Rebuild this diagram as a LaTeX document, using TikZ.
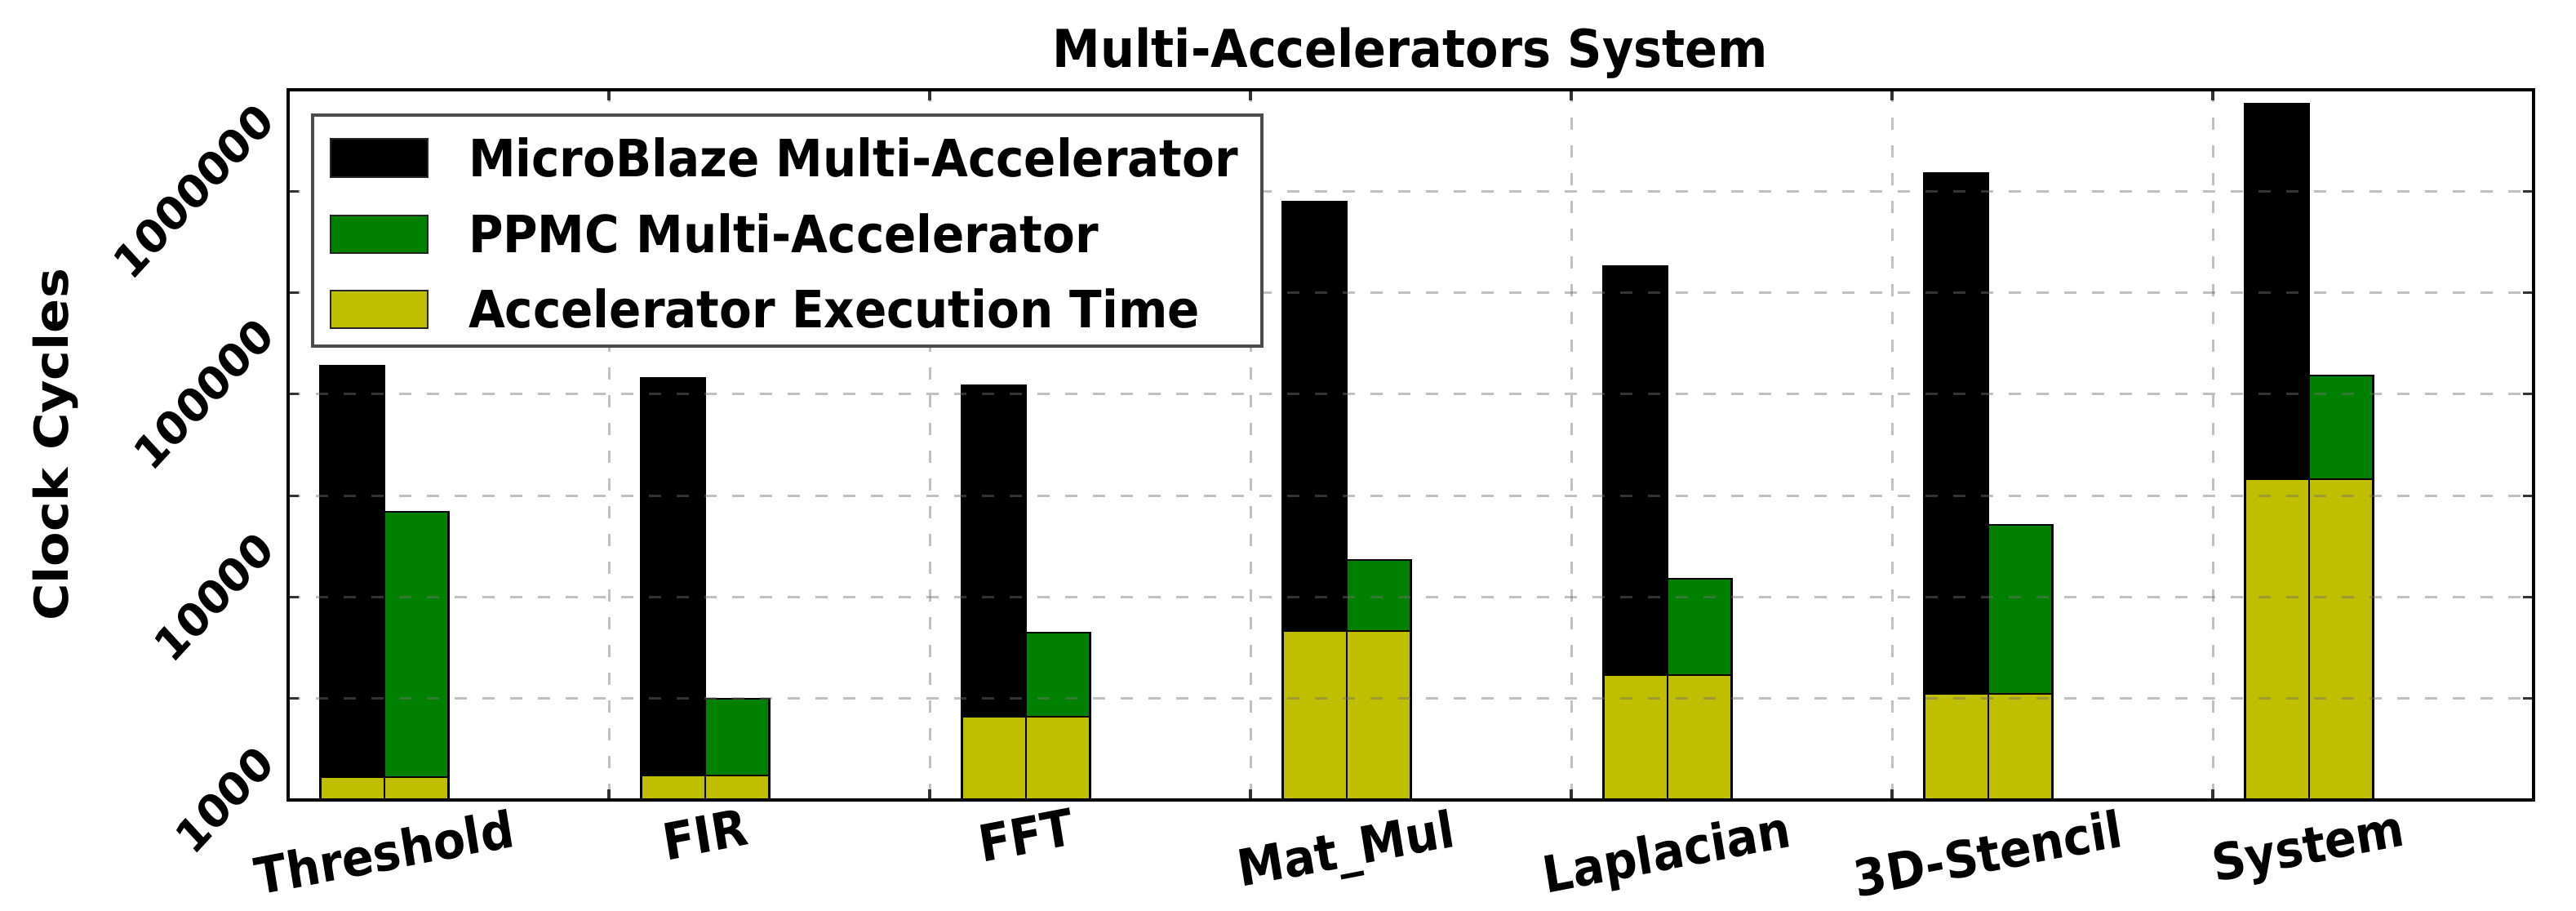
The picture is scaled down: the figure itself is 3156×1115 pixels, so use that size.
\documentclass[tikz,border=0pt]{standalone}
\usepackage{fontspec}
\setmainfont{DejaVu Sans}
\usepackage{graphicx}

% matplotlib classic bar colours
\definecolor{mbblack}{rgb}{0,0,0}
\definecolor{mbgreen}{rgb}{0,0.5,0}
\definecolor{mbyellow}{rgb}{0.75,0.75,0}

% the whole figure is slightly narrowed horizontally
\newcommand{\sqz}[1]{\scalebox{0.92}[1]{#1}}
\newcommand{\titlefont}{\bfseries\fontsize{16pt}{19pt}\selectfont}
\newcommand{\legfont}{\bfseries\fontsize{15.75pt}{19pt}\selectfont}
\newcommand{\xlabfont}{\bfseries\fontsize{15.5pt}{18pt}\selectfont}
\newcommand{\ylabfont}{\bfseries\fontsize{14pt}{17pt}\selectfont}

\begin{document}
\begin{tikzpicture}[x=0.25pt,y=-0.25pt,
  baredge/.style={draw=black, line width=0.7pt},
  gridline/.style={draw=black!55, opacity=0.45, line width=0.75pt,
                   dash pattern=on 3.75pt off 4.75pt},
  spine/.style={draw=black, line width=1.1pt},
  tickmark/.style={draw=black!80, line width=0.8pt},
  legendframe/.style={draw=black!70, line width=1pt, fill=white},
  patch/.style={draw=black!85, line width=0.7pt},
  lbl/.style={inner sep=0pt, outer sep=0pt}]

\useasboundingbox (0,0) rectangle (3156,1115);

% stacked bars: group index / MicroBlaze top / PPMC top / accelerator top (pixel rows)
\foreach \i/\blk/\grn/\yel in {0/448/627/952, 1/463/856/950, 2/472/775/878,
                               3/247/686/773, 4/326/709/827, 5/212/643/850,
                               6/127/460/587} {
  \pgfmathsetmacro\xa{353+393*\i+39.3}
  \pgfmathsetmacro\xb{353+393*\i+117.9}
  \pgfmathsetmacro\xc{353+393*\i+196.5}
  \path[baredge, fill=mbblack]  (\xa,\yel) rectangle (\xb,\blk);
  \path[baredge, fill=mbyellow] (\xa,980)  rectangle (\xb,\yel);
  \path[baredge, fill=mbgreen]  (\xb,\yel) rectangle (\xc,\grn);
  \path[baredge, fill=mbyellow] (\xb,980)  rectangle (\xc,\yel);
}

% grid: half-decade rows and category separators
\foreach \k in {1,...,6} {
  \pgfmathsetmacro\gy{980-124.3*\k}
  \draw[gridline] (353,\gy) -- (3104,\gy);
  \pgfmathsetmacro\gx{353+393*\k}
  \draw[gridline] (\gx,110) -- (\gx,980);
}

% tick marks
\foreach \k in {1,...,6} {
  \pgfmathsetmacro\gy{980-124.3*\k}
  \draw[tickmark] (353,\gy) -- (366,\gy);
  \draw[tickmark] (3104,\gy) -- (3091,\gy);
  \pgfmathsetmacro\gx{353+393*\k}
  \draw[tickmark] (\gx,980) -- (\gx,967);
  \draw[tickmark] (\gx,110) -- (\gx,123);
}

% axes frame
\draw[spine] (353,110) rectangle (3104,980);

% y tick labels
\node[lbl, anchor=east] (yt3) at (339,980)   {\ylabfont\sqz{\rotatebox{45}{1000}}};
\node[lbl, anchor=east] (yt4) at (339,731.4) {\ylabfont\sqz{\rotatebox{45}{10000}}};
\node[lbl, anchor=east] (yt5) at (339,482.8) {\ylabfont\sqz{\rotatebox{45}{100000}}};
\node[lbl, anchor=east] (yt6) at (339,234.2) {\ylabfont\sqz{\rotatebox{45}{1000000}}};

% axis title
\node[lbl] (ylab) at (68,545) {\xlabfont\sqz{\rotatebox{90}{Clock Cycles}}};

% category labels
\foreach \i/\name/\txt in {0/threshold/Threshold, 1/fir/FIR, 2/fft/FFT,
                           3/matmul/Mat\_Mul, 4/laplacian/Laplacian,
                           5/stencil/3D-Stencil, 6/system/System} {
  \node[lbl, anchor=north] (x-\name) at ({353+393*\i+117.9},990)
    {\xlabfont\sqz{\rotatebox{10}{\txt}}};
}

% plot title
\node[lbl, anchor=base] (title) at (1728,82) {\titlefont\sqz{Multi-Accelerators System}};

% legend
\draw[legendframe] (383,141) rectangle (1546,424);
\draw[patch, fill=mbblack]  (405,170) rectangle (524,217);
\draw[patch, fill=mbgreen]  (405,264) rectangle (524,310);
\draw[patch, fill=mbyellow] (405,356) rectangle (524,402);
\node[lbl, anchor=base west] (leg1) at (574,216) {\legfont\sqz{MicroBlaze Multi-Accelerator}};
\node[lbl, anchor=base west] (leg2) at (574,309) {\legfont\sqz{PPMC Multi-Accelerator}};
\node[lbl, anchor=base west] (leg3) at (574,401) {\legfont\sqz{Accelerator Execution Time}};

\end{tikzpicture}
\end{document}
